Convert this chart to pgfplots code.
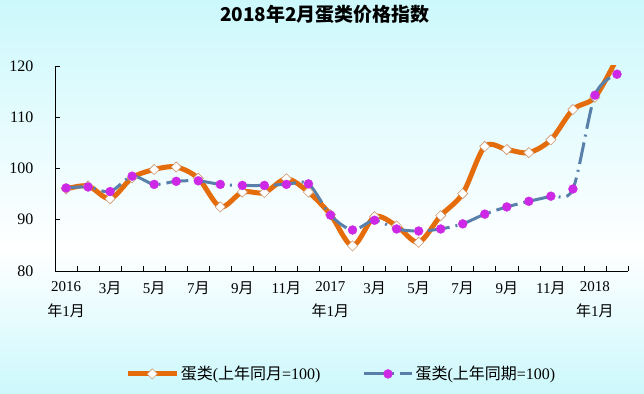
\documentclass[border=0pt]{standalone}
\usepackage{fontspec}
\usepackage{pgfplots}
\pgfplotsset{compat=1.18}
\setmainfont{Liberation Serif}
\newfontfamily\cjk{Noto Sans CJK SC}
\definecolor{bgc}{RGB}{204,248,252}
\definecolor{org}{RGB}{228,108,10}
\definecolor{stb}{RGB}{88,128,170}
\definecolor{mag}{RGB}{204,40,230}
\definecolor{dedge}{RGB}{205,150,110}
\newcommand{\yue}{{\cjk 月}}
\newcommand{\nian}{{\cjk 年}}
\begin{document}
\begin{tikzpicture}
\fill[top color=bgc,bottom color=white] (0pt,143pt) rectangle (644pt,393pt);
\fill[top color=white,bottom color=bgc] (0pt,0pt) rectangle (644pt,143.5pt);
\node[font=\cjk\bfseries\fontsize{19}{19}\selectfont] at (325pt,378.5pt) {2018年2月蛋类价格指数};
\begin{axis}[at={(55pt,122pt)}, anchor=south west, scale only axis,
  width=573pt, height=205pt,
  xmin=-0.5, xmax=25.5, ymin=80, ymax=120,
  ytick={80,90,...,120},
  axis lines*=left,
  axis line style={line width=0.8pt},
  tick align=inside,
  major tick length=5pt, minor tick length=5pt,
  tick style={black, line width=0.6pt},
  xtick={0,2,...,24},
  xticklabels={{2016\\\nian 1\yue},{3\yue},{5\yue},{7\yue},{9\yue},{11\yue},{2017\\\nian 1\yue},{3\yue},{5\yue},{7\yue},{9\yue},{11\yue},{2018\\\nian 1\yue}},
  major x tick style={draw=none},
  minor xtick={-0.5,0.5,...,25.5},
  xticklabel style={align=center, font=\fontsize{15}{25}\selectfont, yshift=-7pt},
  yticklabel style={font=\fontsize{16}{16}\selectfont, xshift=-18pt},
  /pgf/number format/assume math mode=true,
  legend style={at={(0.5,-0.502)}, anchor=center, draw=none, fill=none,
    legend columns=2, font=\fontsize{16}{16}\selectfont,
    /tikz/every even column/.append style={column sep=40pt}},
  legend cell align=left,
  legend image code/.code={\draw[mark repeat=2,mark phase=2,#1] plot coordinates {(0pt,0pt) (24pt,0pt) (48pt,0pt)};},
]
\addplot[org, line width=5pt, smooth, mark=square*, mark size=3.6pt,
  mark options={rotate=45, fill=white, draw=dedge, line width=0.6pt, solid}]
coordinates {
(0,96.0)(1,96.6)(2,94.1)(3,98.2)(4,99.8)(5,100.3)(6,98.1)(7,92.5)(8,95.4)(9,95.3)
(10,98.0)(11,95.4)(12,91.0)(13,84.9)(14,90.6)(15,88.8)(16,85.6)(17,90.8)(18,95.1)
(19,104.3)(20,103.7)(21,103.1)(22,105.6)(23,111.5)(24,113.9)(25,121.5)};
\addlegendentry{{\cjk 蛋类}({\cjk 上年同月}=100)}
\addplot[stb, line width=3pt, smooth, dash pattern=on 22pt off 6pt on 2pt off 6pt,
  mark=*, mark size=4.5pt, mark options={solid, fill=mag, draw=mag, line width=0.3pt}]
coordinates {
(0,96.2)(1,96.4)(2,95.5)(3,98.5)(4,96.9)(5,97.5)(6,97.6)(7,96.9)(8,96.7)(9,96.7)
(10,96.9)(11,97.0)(12,90.9)(13,88.0)(14,89.9)(15,88.2)(16,87.8)(17,88.2)(18,89.2)
(19,91.1)(20,92.5)(21,93.6)(22,94.6)(23,96.0)(24,114.3)(25,118.4)};
\addlegendentry{{\cjk 蛋类}({\cjk 上年同期}=100)}
\end{axis}
\pgfresetboundingbox
\useasboundingbox (0pt,0pt) rectangle (644pt,393pt);
\end{tikzpicture}
\end{document}
